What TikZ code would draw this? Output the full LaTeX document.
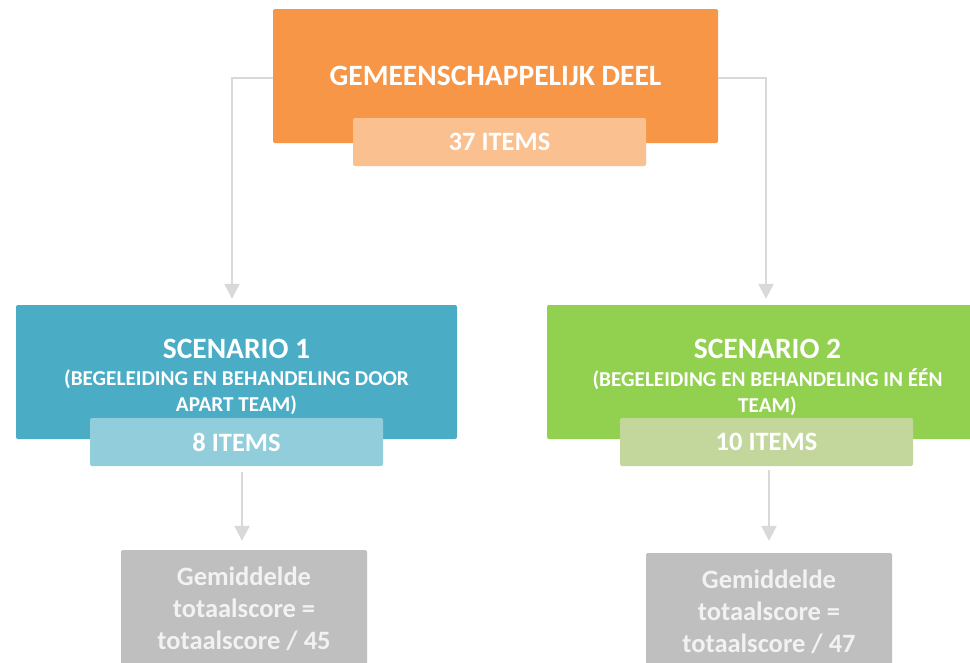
\documentclass[tikz,border=0pt]{standalone}
\usepackage{fontspec}
\setmainfont{Carlito}
\usetikzlibrary{arrows.meta}
\definecolor{orangeA}{HTML}{F79646}
\definecolor{orangeB}{HTML}{FAC090}
\definecolor{blueA}{HTML}{4BACC6}
\definecolor{blueB}{HTML}{92CDDC}
\definecolor{greenA}{HTML}{92D050}
\definecolor{greenB}{HTML}{C3D69B}
\definecolor{greyA}{HTML}{BFBFBF}
\definecolor{greyT}{HTML}{F2F2F2}
\definecolor{lineC}{HTML}{D9D9D9}
\begin{document}
\begin{tikzpicture}[x=1pt,y=-1pt,
  mainbox/.style={rounded corners=2pt, inner sep=0pt, text=white, align=center},
  titletext/.style={text=white, inner sep=0pt, align=center, font=\bfseries\fontsize{29.5}{34}\selectfont},
  subtext/.style={text=white, inner sep=0pt, align=center, font=\bfseries\fontsize{21.2}{26}\selectfont},
  itembox/.style={rounded corners=2pt, inner sep=0pt, text=white, minimum width=293pt, minimum height=48pt, font=\bfseries\fontsize{26.5}{30}\selectfont},
  resbox/.style={rounded corners=2pt, inner sep=0pt, fill=greyA, text=greyT, minimum width=246pt, minimum height=118pt, align=center, font=\bfseries\fontsize{26.5}{32}\selectfont},
  conn/.style={draw=lineC, line width=2.2pt, -{Triangle[width=15pt,length=15pt]}}]
\clip (0,0) rectangle (970,662);
\fill[white] (0,0) rectangle (970,662);
% top
\node[mainbox, fill=orangeA, minimum width=445pt, minimum height=134pt, font=\bfseries\fontsize{29.5}{34}\selectfont] (top) at (495.5,76) {GEMEENSCHAPPELIJK DEEL};
\node[itembox, fill=orangeB] (items0) at (499.5,142) {37 ITEMS};
% scenario 1
\node[mainbox, fill=blueA, minimum width=441pt, minimum height=134pt] (sc1) at (236.5,372) {};
\node[titletext] (sc1t) at (236.5,349) {SCENARIO 1};
\node[subtext] (sc1s) at (236.5,392) {(BEGELEIDING EN BEHANDELING DOOR\\ APART TEAM)};
\node[itembox, fill=blueB] (items1) at (236.5,442) {8 ITEMS};
% scenario 2
\node[mainbox, fill=greenA, minimum width=441pt, minimum height=134pt] (sc2) at (767.5,372) {};
\node[titletext] (sc2t) at (767.5,349) {SCENARIO 2};
\node[subtext] (sc2s) at (767.5,392) {(BEGELEIDING EN BEHANDELING IN ÉÉN\\ TEAM)};
\node[itembox, fill=greenB] (items2) at (766.5,442) {10 ITEMS};
% results
\node[resbox] (res1) at (244,609) {Gemiddelde\\ totaalscore =\\ totaalscore / 45};
\node[resbox] (res2) at (769,612) {Gemiddelde\\ totaalscore =\\ totaalscore / 47};
% connectors
\draw[conn] ([yshift=-2pt]top.west) -| ([xshift=-4.5pt,yshift=6pt]sc1.north);
\draw[conn] ([yshift=-2pt]top.east) -| ([xshift=-1.5pt,yshift=6pt]sc2.north);
\draw[conn] ([xshift=-2pt,yshift=-6pt]res1.north |- items1.south) -- ([xshift=-2pt,yshift=9pt]res1.north);
\draw[conn] ([yshift=-4pt]res2.north |- items2.south) -- ([yshift=12pt]res2.north);
\end{tikzpicture}
\end{document}
